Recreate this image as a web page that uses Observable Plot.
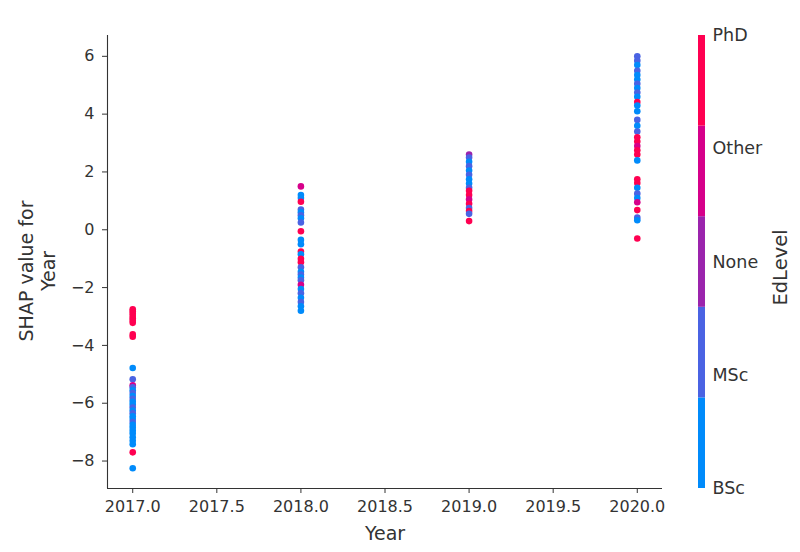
<!DOCTYPE html>
<html><head><meta charset="utf-8">
<script src="https://cdn.jsdelivr.net/npm/d3@7"></script>
<script src="https://cdn.jsdelivr.net/npm/@observablehq/plot@0.6"></script>
<style>
html,body{margin:0;padding:0;background:#fff;}
#wrap{position:relative;width:800px;height:552px;}
#wrap svg{position:absolute;left:0;top:0;}
</style></head><body><div id="wrap"></div>
<script>
const edLevels = ["BSc","MSc","None","Other","PhD"];
const edColors = ["#008bfb","#4a63e3","#9b24ad","#d6008a","#ff0051"];
const xTicks = [2017,2017.5,2018,2018.5,2019,2019.5,2020];
const yTicks = [-8,-6,-4,-2,0,2,4,6];

const shap2017 = [-2.75,-2.82,-2.9,-2.98,-3.06,-3.14,-3.22,-3.62,-3.7,-4.78,-5.17,-5.38,-5.45,-5.55,-5.65,-5.75,-5.85,-5.95,-6.05,-6.15,-6.25,-6.35,-6.45,-6.55,-6.65,-6.75,-6.85,-6.95,-7.05,-7.18,-7.3,-7.42,-7.7,-8.25];
const ed2017 = ["PhD","PhD","PhD","PhD","PhD","PhD","PhD","PhD","PhD","BSc","MSc","Other","MSc","BSc","MSc","BSc","MSc","BSc","BSc","MSc","BSc","MSc","BSc","BSc","MSc","BSc","BSc","BSc","BSc","BSc","BSc","BSc","PhD","BSc"];

const shap2018 = [1.5,1.2,1.1,0.97,0.7,0.6,0.5,0.4,0.25,-0.05,-0.35,-0.5,-0.75,-0.85,-1.0,-1.12,-1.3,-1.45,-1.55,-1.65,-1.75,-1.9,-2.05,-2.2,-2.35,-2.5,-2.65,-2.8];
const ed2018 = ["Other","BSc","BSc","PhD","MSc","BSc","MSc","BSc","MSc","PhD","BSc","BSc","PhD","BSc","PhD","PhD","MSc","BSc","MSc","BSc","MSc","Other","BSc","MSc","BSc","MSc","BSc","BSc"];

const shap2019 = [2.6,2.5,2.35,2.2,2.05,1.9,1.75,1.6,1.45,1.35,1.2,1.05,0.9,0.75,0.65,0.55,0.3];
const ed2019 = ["None","MSc","BSc","MSc","BSc","MSc","BSc","BSc","MSc","PhD","PhD","Other","PhD","MSc","PhD","MSc","PhD"];

const shap2020 = [6.0,5.85,5.7,5.5,5.35,5.2,5.05,4.9,4.75,4.6,4.42,4.3,4.1,3.8,3.6,3.4,3.2,3.05,2.9,2.75,2.6,2.4,1.75,1.62,1.45,1.25,1.1,0.95,0.68,0.42,0.33,-0.3];
const ed2020 = ["MSc","MSc","BSc","MSc","BSc","BSc","MSc","BSc","MSc","BSc","PhD","BSc","BSc","MSc","BSc","MSc","PhD","PhD","Other","PhD","PhD","BSc","PhD","PhD","BSc","MSc","BSc","Other","PhD","MSc","BSc","PhD"];

const data = [];
function add(year, vals, eds) { vals.forEach((v, i) => data.push({year, shap: v, ed: eds[i]})); }
add(2017, shap2017, ed2017);
add(2018, shap2018, ed2018);
add(2019, shap2019, ed2019);
add(2020, shap2020, ed2020);

const xDomain = [2016.85, 2020.15];
const yDomain = [-8.95, 6.72];
const font = "DejaVu Sans, sans-serif";

const main = Plot.plot({
  width: 800, height: 552,
  marginLeft: 107, marginRight: 138, marginTop: 35, marginBottom: 64,
  style: {fontFamily: font, fontSize: "16px", color: "#333", background: "white"},
  x: {domain: xDomain},
  y: {domain: yDomain},
  color: {domain: edLevels, range: edColors},
  marks: [
    Plot.ruleX([xDomain[0]], {stroke: "#333", strokeWidth: 1.1}),
    Plot.ruleY([yDomain[0]], {stroke: "#333", strokeWidth: 1.1}),
    Plot.axisX({ticks: xTicks, tickFormat: d => d.toFixed(1), tickSize: 5, tickPadding: 7, label: null, fontSize: 16, stroke: "#333"}),
    Plot.axisY({ticks: yTicks, tickFormat: d => (d < 0 ? "\u2212" : "") + Math.abs(d), tickSize: 5, tickPadding: 8, label: null, fontSize: 16, stroke: "#333"}),
    Plot.dot(data, {x: "year", y: "shap", fill: "ed", r: 3.3, stroke: null}),
    Plot.text(["SHAP value for\nYear"], {text: d => d, frameAnchor: "left", textAnchor: "middle", lineAnchor: "middle", dx: -71, dy: 9, rotate: -90, fontSize: 19, lineHeight: 1.16, fill: "#333"}),
    Plot.text(["Year"], {text: d => d, frameAnchor: "bottom", textAnchor: "middle", lineAnchor: "middle", dy: 45, fontSize: 19, fill: "#333"})
  ]
});

const n = edLevels.length;
const bar = Plot.plot({
  width: 800, height: 552,
  marginLeft: 698, marginRight: 95, marginTop: 35, marginBottom: 64,
  style: {fontFamily: font, fontSize: "17.5px", color: "#333", background: "transparent"},
  x: {domain: [0, 1], axis: null},
  y: {domain: [0, n - 1], axis: null},
  color: {domain: edLevels, range: edColors},
  marks: [
    Plot.rect(edLevels, {x1: 0, x2: 1, y1: (d, i) => i * (n - 1) / n, y2: (d, i) => (i + 1) * (n - 1) / n, fill: d => d}),
    Plot.text(edLevels, {x: 1, y: (d, i) => i, text: d => d, textAnchor: "start", dx: 7, fontSize: 17.5, fill: "#333"}),
    Plot.text(["EdLevel"], {text: d => d, frameAnchor: "right", textAnchor: "middle", lineAnchor: "middle", dx: 75, dy: 5.5, rotate: -90, fontSize: 19.5, fill: "#333"})
  ]
});

const wrap = document.getElementById("wrap");
wrap.appendChild(main);
wrap.appendChild(bar);
</script></body></html>
